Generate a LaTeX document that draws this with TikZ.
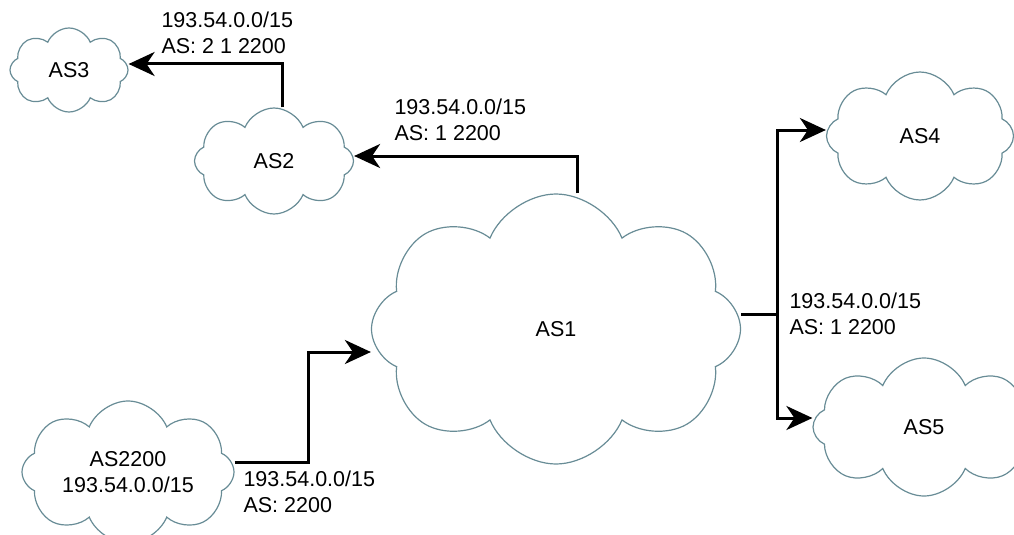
\documentclass[tikz,border=0pt]{standalone}
\usepackage{fontspec}
\setmainfont{Liberation Sans}
\usetikzlibrary{shapes.symbols,arrows.meta}
\definecolor{nuage}{RGB}{104,140,150}

\begin{document}
\begin{tikzpicture}[x=1pt, y=-1pt,
            as/.style={cloud, cloud puffs=8, cloud puff arc=135, cloud ignores aspect,
                draw=nuage, line width=1.2pt, fill=white, inner sep=0pt, align=center,
                font=\fontsize{21.5}{26}\selectfont},
            fleche/.style={draw=black, line width=3pt, -{Stealth[length=26pt,width=24pt,inset=8pt]}},
            route/.style={align=left, anchor=west, font=\fontsize{21.5}{26}\selectfont},
        ]
        \useasboundingbox (0,0) rectangle (1014,535);
        % nuages
        \node[as, minimum width=118pt, minimum height=84pt] (AS3) at (69,70) {AS3};
        \node[as, minimum width=159pt, minimum height=106pt] (AS2) at (274,161) {AS2};
        \node[as, minimum width=369pt, minimum height=270pt] (AS1) at (556,329) {AS1};
        \node[as, minimum width=187pt, minimum height=128pt] (AS4) at (920,136) {AS4};
        \node[as, minimum width=222pt, minimum height=138pt] (AS5) at (924,427) {AS5};
        \node[as, minimum width=212pt, minimum height=142pt] (AS2200) at (128,472) {AS2200\\193.54.0.0/15};
        % annonces
        \draw[fleche] ([xshift=8pt]AS2.north) |- ([yshift=6pt]AS3.east);
        \draw[fleche] ([xshift=21pt]AS1.north) |- ([yshift=5pt]AS2.east);
        \coordinate (split) at (777,314);
        \draw[line width=3pt] ([yshift=15pt]AS1.east) -- (split);
        \draw[fleche] (split) |- ([yshift=6pt]AS4.west);
        \draw[fleche] (split) |- ([yshift=9pt]AS5.west);
        \coordinate (jog) at (308,400);
        \draw[fleche] ([yshift=10pt]AS2200.east) -| (jog) |- ([yshift=-23pt]AS1.west);
        % etiquettes
        \node[route] (r3) at (158,33) {193.54.0.0/15\\AS: 2 1 2200};
        \node[route] (r2) at (391,120) {193.54.0.0/15\\AS: 1 2200};
        \node[route] (r45) at (786,314) {193.54.0.0/15\\AS: 1 2200};
        \node[route] (r1) at (240,492) {193.54.0.0/15\\AS: 2200};
    \end{tikzpicture}
\end{document}
